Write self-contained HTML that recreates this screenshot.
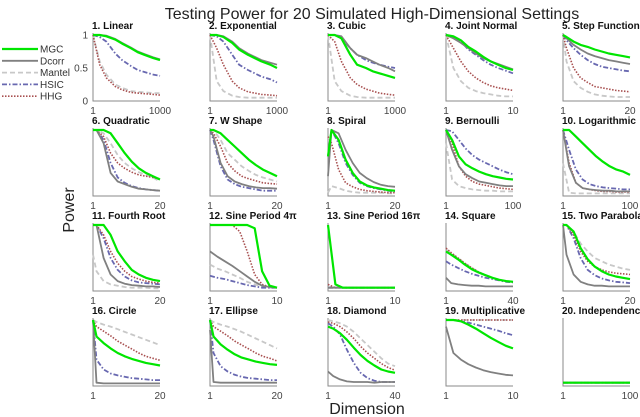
<!DOCTYPE html>
<html><head><meta charset="utf-8">
<style>
body{margin:0;background:#fff;}
svg{display:block;font-family:"Liberation Sans",sans-serif;}
</style></head>
<body>
<svg id="chart" width="640" height="417" viewBox="0 0 640 417">
<text x="372" y="19" text-anchor="middle" font-size="16" fill="#222">Testing Power for 20 Simulated High-Dimensional Settings</text>
<text x="0" y="0" transform="translate(74,210) rotate(-90)" text-anchor="middle" font-size="16" fill="#222">Power</text>
<text x="367" y="414" text-anchor="middle" font-size="16" fill="#222">Dimension</text>
<g id="legend"></g>
<g id="panels"></g>
</svg>
<script>
const seriesNames = ["Mantel","HSIC","HHG","Dcorr","MGC"];
const titles = ["1. Linear","2. Exponential","3. Cubic","4. Joint Normal","5. Step Function","6. Quadratic","7. W Shape","8. Spiral","9. Bernoulli","10. Logarithmic","11. Fourth Root","12. Sine Period 4\u03c0","13. Sine Period 16\u03c0","14. Square","15. Two Parabolas","16. Circle","17. Ellipse","18. Diamond","19. Multiplicative","20. Independence"];
const xMax = [1000,1000,1000,10,20,20,20,20,100,100,20,10,10,40,20,20,20,40,10,100];
const logScale = [true,true,true,false,false,false,false,false,false,false,false,false,false,false,false,false,false,false,false,false];
const dimsLog = [1,2,4,10,20,50,100,200,500,1000];
const dims10 = [1,2,3,4,5,6,7,8,9,10];
const dims20 = [1,2,4,6,8,10,12,14,16,18,20];
const dims40 = [1,4,8,12,16,20,24,28,32,36,40];
const dims100 = [1,10,20,30,40,50,60,70,80,90,100];
const panelDims = [dimsLog,dimsLog,dimsLog,dims10,dims20,dims20,dims20,dims20,dims100,dims100,dims20,dims10,dims10,dims40,dims20,dims20,dims20,dims40,dims10,dims100];
// values per panel: [Mantel, HSIC, HHG, Dcorr, MGC]
const mantelVals = [
[1,0.6,0.4,0.25,0.2,0.15,0.14,0.13,0.12,0.12],
[1,0.3,0.15,0.08,0.06,0.05,0.05,0.05,0.05,0.05],
[1,0.3,0.15,0.08,0.06,0.05,0.05,0.05,0.05,0.05],
[1,0.5,0.3,0.2,0.15,0.12,0.1,0.08,0.07,0.07],
[1,0.6,0.3,0.2,0.14,0.1,0.08,0.07,0.06,0.06,0.06],
[1,1,0.95,0.8,0.62,0.5,0.42,0.36,0.32,0.28,0.22],
[1,1,0.85,0.65,0.55,0.45,0.38,0.32,0.28,0.25,0.22],
[0.05,0.15,0.12,0.08,0.06,0.05,0.05,0.05,0.05,0.04,0.04],
[0.8,0.25,0.15,0.12,0.1,0.09,0.08,0.08,0.07,0.07,0.07],
[0.5,0.05,0.04,0.04,0.04,0.04,0.04,0.04,0.04,0.04,0.04],
[0.55,0.3,0.15,0.1,0.08,0.06,0.05,0.05,0.05,0.04,0.04],
[0.4,0.34,0.3,0.25,0.2,0.14,0.1,0.07,0.05,0.05],
[0.05,0.05,0.05,0.05,0.05,0.05,0.05,0.05,0.05,0.05],
[0.63,0.57,0.5,0.42,0.35,0.29,0.24,0.2,0.17,0.15,0.14],
[1,1,0.9,0.72,0.6,0.5,0.45,0.4,0.37,0.34,0.32],
[1,0.97,0.93,0.9,0.86,0.82,0.78,0.74,0.7,0.66,0.62],
[1,0.97,0.93,0.9,0.86,0.82,0.77,0.72,0.67,0.62,0.57],
[1,0.98,0.95,0.9,0.82,0.72,0.62,0.52,0.42,0.34,0.3],
[1,1,1,1,1,1,1,1,1,1],
[0.05,0.05,0.05,0.05,0.05,0.05,0.05,0.05,0.05,0.05,0.05]];
const hsicVals = [
[1,0.97,0.9,0.72,0.62,0.53,0.47,0.44,0.4,0.38],
[1,0.98,0.9,0.7,0.55,0.47,0.42,0.37,0.33,0.28],
[1,1,0.95,0.8,0.7,0.62,0.58,0.55,0.52,0.5],
[1,0.97,0.9,0.78,0.7,0.62,0.55,0.5,0.46,0.42],
[1,0.92,0.8,0.7,0.62,0.56,0.52,0.5,0.48,0.46,0.45],
[1,1,0.85,0.5,0.28,0.2,0.15,0.12,0.1,0.09,0.08],
[1,0.85,0.45,0.25,0.18,0.14,0.12,0.1,0.08,0.08,0.08],
[0.6,1,0.8,0.5,0.32,0.2,0.15,0.12,0.1,0.08,0.07],
[1,0.98,0.85,0.72,0.62,0.55,0.5,0.45,0.4,0.36,0.33],
[1,0.7,0.4,0.25,0.18,0.15,0.13,0.12,0.11,0.1,0.1],
[1,1,0.8,0.5,0.32,0.22,0.16,0.13,0.12,0.11,0.1],
[0.23,0.2,0.18,0.15,0.12,0.09,0.07,0.05,0.05,0.05],
[0.05,0.05,0.05,0.05,0.05,0.05,0.05,0.05,0.05,0.05],
[0.45,0.4,0.35,0.3,0.26,0.23,0.2,0.18,0.16,0.14,0.13],
[1,1,0.8,0.5,0.32,0.24,0.19,0.16,0.14,0.13,0.12],
[1,0.4,0.25,0.19,0.16,0.14,0.12,0.11,0.1,0.09,0.09],
[1,0.5,0.3,0.22,0.17,0.14,0.12,0.11,0.1,0.09,0.09],
[0.95,0.9,0.78,0.55,0.35,0.2,0.12,0.08,0.06,0.06,0.06],
[1,1,0.98,0.96,0.93,0.9,0.87,0.84,0.8,0.77],
[0.05,0.05,0.05,0.05,0.05,0.05,0.05,0.05,0.05,0.05,0.05]];
const hhgVals = [
[1,0.55,0.35,0.22,0.17,0.13,0.12,0.11,0.1,0.09],
[1,0.8,0.55,0.3,0.2,0.14,0.12,0.1,0.09,0.08],
[1,0.9,0.6,0.35,0.25,0.18,0.15,0.12,0.1,0.09],
[1,0.8,0.6,0.45,0.35,0.28,0.23,0.2,0.18,0.16],
[1,0.8,0.5,0.35,0.28,0.22,0.2,0.18,0.16,0.15,0.14],
[1,1,0.9,0.65,0.5,0.42,0.36,0.32,0.3,0.28,0.26],
[1,0.95,0.75,0.5,0.38,0.3,0.26,0.23,0.2,0.19,0.18],
[0.9,0.8,0.4,0.2,0.14,0.1,0.08,0.07,0.06,0.05,0.05],
[1,0.8,0.45,0.3,0.22,0.18,0.16,0.14,0.12,0.11,0.1],
[1,0.5,0.2,0.12,0.1,0.08,0.07,0.07,0.06,0.06,0.06],
[1,1,0.85,0.6,0.42,0.3,0.22,0.18,0.15,0.13,0.12],
[1,1,1,1,0.9,0.6,0.25,0.1,0.06,0.05],
[0.1,0.05,0.05,0.05,0.05,0.05,0.05,0.05,0.05,0.05],
[0.65,0.58,0.5,0.42,0.35,0.29,0.24,0.2,0.17,0.15,0.14],
[1,1,0.85,0.6,0.45,0.37,0.32,0.29,0.27,0.26,0.25],
[1,0.9,0.83,0.76,0.68,0.62,0.56,0.5,0.45,0.42,0.39],
[1,0.9,0.83,0.76,0.68,0.62,0.56,0.5,0.45,0.42,0.38],
[0.97,0.95,0.9,0.82,0.72,0.6,0.5,0.42,0.34,0.28,0.24],
[1,1,1,1,1,1,1,1,1,1],
[0.05,0.05,0.05,0.05,0.05,0.05,0.05,0.05,0.05,0.05,0.05]];
const dcorrVals = [
[1,1,0.99,0.94,0.88,0.81,0.75,0.71,0.66,0.63],
[1,1,0.98,0.9,0.8,0.72,0.67,0.62,0.58,0.55],
[1,1,0.98,0.8,0.7,0.65,0.6,0.55,0.5,0.45],
[1,0.95,0.88,0.8,0.72,0.65,0.6,0.56,0.52,0.48],
[1,0.95,0.85,0.78,0.72,0.68,0.65,0.62,0.6,0.58,0.56],
[1,1,0.8,0.35,0.22,0.18,0.14,0.11,0.1,0.09,0.08],
[1,0.9,0.5,0.3,0.22,0.18,0.15,0.13,0.12,0.12,0.11],
[0.3,1,0.95,0.7,0.5,0.35,0.27,0.21,0.17,0.15,0.14],
[1,0.7,0.45,0.33,0.27,0.22,0.2,0.18,0.16,0.15,0.15],
[1,0.45,0.2,0.12,0.1,0.09,0.08,0.08,0.07,0.07,0.07],
[1,1,0.5,0.25,0.15,0.11,0.09,0.08,0.07,0.07,0.06],
[0.6,0.52,0.45,0.38,0.3,0.22,0.14,0.08,0.06,0.05],
[0.05,0.05,0.05,0.05,0.05,0.05,0.05,0.05,0.05,0.05],
[0.2,0.12,0.1,0.09,0.08,0.08,0.07,0.07,0.07,0.07,0.07],
[1,0.55,0.25,0.14,0.1,0.08,0.08,0.07,0.07,0.07,0.07],
[1,0.05,0.04,0.04,0.04,0.04,0.04,0.04,0.04,0.04,0.04],
[0.85,0.06,0.05,0.05,0.05,0.05,0.05,0.05,0.05,0.05,0.05],
[0.22,0.15,0.1,0.07,0.06,0.06,0.06,0.05,0.06,0.06,0.06],
[0.9,0.5,0.4,0.33,0.28,0.24,0.21,0.19,0.17,0.16],
[0.05,0.05,0.05,0.05,0.05,0.05,0.05,0.05,0.05,0.05,0.05]];
const mgcVals = [
[1,1,0.98,0.93,0.87,0.8,0.74,0.7,0.65,0.62],
[1,1,0.97,0.88,0.78,0.7,0.65,0.6,0.55,0.5],
[1,1,0.95,0.7,0.55,0.5,0.45,0.42,0.38,0.35],
[1,0.98,0.92,0.82,0.75,0.67,0.6,0.55,0.5,0.47],
[1,0.97,0.9,0.85,0.82,0.78,0.75,0.72,0.7,0.68,0.66],
[1,1,1,0.95,0.8,0.65,0.52,0.42,0.35,0.3,0.25],
[1,1,0.95,0.85,0.75,0.65,0.55,0.47,0.4,0.35,0.3],
[0.6,1,0.85,0.55,0.35,0.22,0.16,0.13,0.11,0.09,0.08],
[1,0.85,0.6,0.48,0.42,0.37,0.33,0.3,0.28,0.26,0.25],
[1,1,0.9,0.8,0.7,0.6,0.52,0.45,0.4,0.37,0.32],
[1,1,1,0.85,0.6,0.45,0.32,0.25,0.2,0.17,0.15],
[1,1,1,1,1,1,0.95,0.3,0.08,0.05],
[1,0.1,0.05,0.05,0.05,0.05,0.05,0.05,0.05,0.05],
[0.6,0.55,0.48,0.4,0.33,0.28,0.24,0.2,0.17,0.15,0.14],
[1,1,0.9,0.65,0.48,0.37,0.3,0.25,0.22,0.2,0.18],
[1,0.75,0.65,0.57,0.5,0.45,0.41,0.38,0.35,0.33,0.31],
[1,0.75,0.63,0.55,0.48,0.43,0.4,0.37,0.35,0.33,0.32],
[0.9,0.87,0.8,0.7,0.58,0.47,0.38,0.31,0.25,0.22,0.2],
[1,1,0.98,0.93,0.87,0.8,0.73,0.67,0.61,0.57],
[0.05,0.05,0.05,0.05,0.05,0.05,0.05,0.05,0.05,0.05,0.05]];
const allVals = [mantelVals,hsicVals,hhgVals,dcorrVals,mgcVals];
const legendOrder = ["MGC","Dcorr","Mantel","HSIC","HHG"];

const NS = "http://www.w3.org/2000/svg";
const styles = {
  MGC:{stroke:"#00e600",w:2.2,dash:""},
  Dcorr:{stroke:"#808080",w:1.8,dash:""},
  Mantel:{stroke:"#c8c8c8",w:1.8,dash:"5,3"},
  HSIC:{stroke:"#6868b0",w:1.8,dash:"5,2,1.5,2"},
  HHG:{stroke:"#a85050",w:1.6,dash:"1.5,1.5"}
};
const colLeft = [93,210,328,446,563];
const rowTop = [35,130,225,320];
const PW = 67, PH = 66;
function mk(tag, attrs, parent){const e=document.createElementNS(NS,tag);for(const k in attrs)e.setAttribute(k,attrs[k]);parent.appendChild(e);return e;}
const panels = document.getElementById("panels");
for(let p=0;p<20;p++){
  const L=colLeft[p%5], T=rowTop[Math.floor(p/5)], B=T+PH, R=L+PW;
  const g=mk("g",{},panels);
  
  
  const xs = v => logScale[p] ? L+PW*Math.log10(v)/Math.log10(xMax[p]) : L+PW*(v-1)/(xMax[p]-1);
  const ys = v => B-PH*v;
  const t=mk("text",{x:L-1,y:T-6,"font-size":"10","font-weight":"bold",fill:"#111"},g);
  t.textContent=titles[p];
  
  
  const ax=mk("path",{d:`M${L},${T-2}V${B}H${R}`,stroke:"#8a8a8a","stroke-width":"1",fill:"none"},g);
  
  
  const t1=mk("text",{x:L,y:B+13,"font-size":"10","text-anchor":"middle",fill:"#444"},g);t1.textContent="1";
  
  
  const t2=mk("text",{x:R,y:B+13,"font-size":"10","text-anchor":"middle",fill:"#444"},g);t2.textContent=String(xMax[p]);
  
  
  if(p===0){
    [[1,"1"],[0.5,"0.5"],[0,"0"]].forEach(([v,s])=>{
      const yt=mk("text",{x:L-5,y:ys(v)+3.5,"font-size":"10","text-anchor":"end",fill:"#444"},g);yt.textContent=s;
      
      
    });
  }
  const d=panelDims[p];
  for(let s=0;s<5;s++){
    const vals=allVals[s][p];
    const st=styles[seriesNames[s]];
    const pts=vals.map((v,i)=>xs(d[i]).toFixed(1)+","+ys(v).toFixed(1)).join(" ");
    const pl=mk("polyline",{points:pts,fill:"none",stroke:st.stroke,"stroke-width":st.w,"stroke-dasharray":st.dash,"stroke-linejoin":"round"},g);
    
    
  }
}
const lg=document.getElementById("legend");
legendOrder.forEach((n,i)=>{
  const y=49+i*11.8, st=styles[n];
  const ln=mk("line",{x1:2,x2:38,y1:y,y2:y,stroke:st.stroke,"stroke-width":st.w,"stroke-dasharray":st.dash},lg);
  
  
  const tx=mk("text",{x:40,y:y+3.5,"font-size":"10",fill:"#333"},lg);tx.textContent=n;
  
  
});
</script>
</body></html>
